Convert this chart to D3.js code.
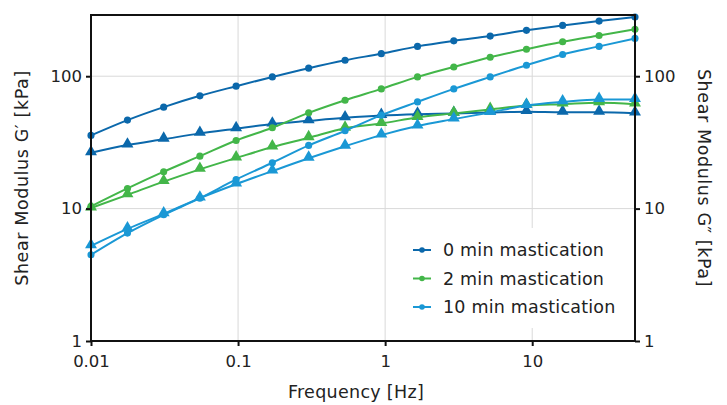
<!DOCTYPE html>
<html>
<head>
<meta charset="utf-8">
<script src="https://cdn.jsdelivr.net/npm/d3@7"></script>
<style>
  body { margin: 0; background: #fff; }
  svg text { font-family: "DejaVu Sans", sans-serif; fill: #222; }
</style>
</head>
<body>
<svg id="chart" width="727" height="405"></svg>
<script>
// frequency [Hz]
const freq = [0.01, 0.0177, 0.0312, 0.055, 0.097, 0.171, 0.302, 0.534, 0.942, 1.66, 2.93, 5.18, 9.14, 16.1, 28.5, 50];

// storage modulus G' [kPa] (circles)
const g1_0 = [35.7, 46.6, 58.4, 71.1, 84.1, 98.8, 115, 132, 148, 168, 185, 201, 222, 242, 261, 280];
const g1_2 = [10.4, 14.2, 19.0, 24.9, 32.7, 40.8, 52.9, 65.9, 80.2, 98.8, 117.5, 139, 160, 182, 203, 226];
const g1_10 = [4.48, 6.53, 8.98, 12.0, 16.6, 22.2, 30.0, 38.7, 50.8, 64.0, 80.2, 98.8, 121, 146, 168, 193];

// loss modulus G'' [kPa] (triangles)
const g2_0 = [26.4, 30.2, 33.4, 37.0, 40.1, 43.5, 46.0, 48.5, 50.5, 51.7, 52.4, 53.3, 54.0, 53.5, 53.5, 52.6];
const g2_2 = [10.1, 12.7, 16.0, 19.8, 24.1, 29.2, 34.3, 40.5, 44.0, 48.8, 52.4, 56.1, 60.1, 61.5, 63.0, 61.5];
const g2_10 = [5.23, 7.03, 9.12, 12.0, 15.3, 19.2, 24.0, 29.6, 35.9, 42.0, 47.4, 53.3, 60.1, 64.0, 66.7, 66.7];

const seriesNames = ["0 min mastication", "2 min mastication", "10 min mastication"];
const colors = ["#0b68ab", "#43b649", "#1a98d5"];
const xTicks = [0.01, 0.1, 1, 10];
const yTicks = [1, 10, 100];

const svg = d3.select("#chart");
const margin = { left: 91, right: 92, top: 15, bottom: 64 };
const W = 727, H = 405;

const x = d3.scaleLog().domain([0.01, 50]).range([margin.left, W - margin.right]);
const y = d3.scaleLog().domain([1, 290]).range([H - margin.bottom, margin.top]);

// grid
const grid = svg.append("g");
grid.selectAll(".gx").data(xTicks.slice(1)).enter().append("line")
  .attr("x1", d => x(d)).attr("x2", d => x(d))
  .attr("y1", y.range()[1]).attr("y2", y.range()[0])
  .attr("stroke", "#d9d9d9").attr("stroke-width", 1);
grid.selectAll(".gy").data(yTicks.slice(1)).enter().append("line")
  .attr("y1", d => y(d)).attr("y2", d => y(d))
  .attr("x1", x.range()[0]).attr("x2", x.range()[1])
  .attr("stroke", "#d9d9d9").attr("stroke-width", 1);

// legend background covers grid
const legX = 400, legY = 228;
svg.append("rect").attr("x", legX).attr("y", legY).attr("width", x.range()[1] - legX - 1).attr("height", 100).attr("fill", "#fff");

// series
const series = [
  { vals: g1_0, c: colors[0], shape: "circle" },
  { vals: g2_0, c: colors[0], shape: "tri" },
  { vals: g1_2, c: colors[1], shape: "circle" },
  { vals: g2_2, c: colors[1], shape: "tri" },
  { vals: g1_10, c: colors[2], shape: "circle" },
  { vals: g2_10, c: colors[2], shape: "tri" }
];

const line = d3.line().x(d => x(d[0])).y(d => y(d[1])).curve(d3.curveMonotoneX);
const plot = svg.append("g");
series.forEach(s => {
  const pts = freq.map((f, i) => [f, s.vals[i]]);
  plot.append("path").datum(pts).attr("d", line)
    .attr("fill", "none").attr("stroke", s.c).attr("stroke-width", 2);
  const sym = s.shape === "circle" ? d3.symbol(d3.symbolCircle, 40) : d3.symbol(d3.symbolTriangle, 62);
  plot.selectAll(null).data(pts).enter().append("path")
    .attr("d", sym)
    .attr("transform", d => `translate(${x(d[0])},${y(d[1]) + (s.shape === "tri" ? -1 : 0)})`)
    .attr("fill", s.c);
});

// axes
const fmt = d => String(d);
svg.append("g").attr("transform", `translate(0,${y.range()[0]})`)
  .call(d3.axisBottom(x).tickValues(xTicks).tickFormat(fmt).tickSize(5).tickPadding(9))
  .call(g => g.select(".domain").remove());
svg.append("g").attr("transform", `translate(${x.range()[0]},0)`)
  .call(d3.axisLeft(y).tickValues(yTicks).tickFormat(fmt).tickSize(5).tickPadding(4))
  .call(g => g.select(".domain").remove());
svg.append("g").attr("transform", `translate(${x.range()[1]},0)`)
  .call(d3.axisRight(y).tickValues(yTicks).tickFormat(fmt).tickSize(5).tickPadding(4))
  .call(g => g.select(".domain").remove());
svg.selectAll(".tick text").attr("font-family", "DejaVu Sans, sans-serif").attr("font-size", 16.5).attr("fill", "#222");
svg.selectAll(".tick line").attr("stroke", "#111").attr("stroke-width", 2);

// frame
svg.append("rect")
  .attr("x", x.range()[0]).attr("y", y.range()[1])
  .attr("width", x.range()[1] - x.range()[0]).attr("height", y.range()[0] - y.range()[1])
  .attr("fill", "none").attr("stroke", "#111").attr("stroke-width", 2);

// axis titles
svg.append("text").attr("x", 356).attr("y", 398).attr("text-anchor", "middle")
  .attr("font-size", 17.5).attr("letter-spacing", 0.3).text("Frequency [Hz]");
svg.append("text").attr("transform", `translate(28,${(y.range()[0] + y.range()[1]) / 2}) rotate(-90)`)
  .attr("text-anchor", "middle").attr("font-size", 17.5).attr("letter-spacing", 0.6).text("Shear Modulus G′ [kPa]");
svg.append("text").attr("transform", `translate(698,${(y.range()[0] + y.range()[1]) / 2}) rotate(90)`)
  .attr("text-anchor", "middle").attr("font-size", 17.5).attr("letter-spacing", 0.6).text("Shear Modulus G″ [kPa]");

// legend
const leg = svg.append("g");
seriesNames.forEach((n, i) => {
  const ly = 250 + i * 28.5;
  leg.append("line").attr("x1", 413).attr("x2", 431).attr("y1", ly).attr("y2", ly)
    .attr("stroke", colors[i]).attr("stroke-width", 2);
  leg.append("circle").attr("cx", 422).attr("cy", ly).attr("r", 2.8).attr("fill", colors[i]);
  leg.append("text").attr("x", 443).attr("y", ly + 6).attr("font-size", 17.5).attr("letter-spacing", 0.2).text(n);
});
</script>
</body>
</html>
